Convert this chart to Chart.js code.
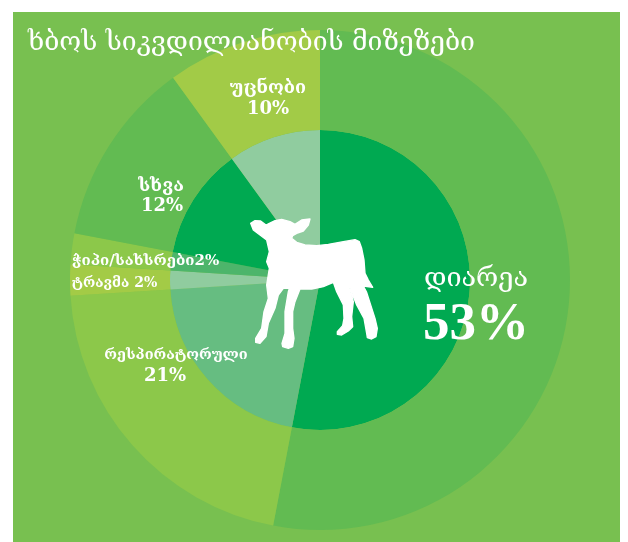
<!DOCTYPE html>
<html>
<head>
<meta charset="utf-8">
<style>
  html, body { margin: 0; padding: 0; background: #fff; overflow: hidden; }
  #panel { position: absolute; left: 13px; top: 12px; width: 607px; height: 530px; background: #78c050; }
  #grafico { position: absolute; left: 0; top: 0; }
</style>
</head>
<body>
<div id="panel"></div>
<canvas id="grafico" width="628" height="542"></canvas>
<script src="https://cdn.jsdelivr.net/npm/chart.js@4"></script>
<script>
  const titulo = "ხბოს სიკვდილიანობის მიზეზები";
  const categorias = ["დიარეა", "რესპირატორული", "ტრავმა", "ჭიპი/სახსრები", "სხვა", "უცნობი"];
  const valores = [53, 21, 2, 2, 12, 10];
  const coresFora = ["#62bb52", "#8cc84a", "#a3cb46", "#8cc84a", "#62bb52", "#a2cb47"];
  const coresDentro = ["#00a951", "#66bd81", "#90cc9f", "#4db56b", "#00a951", "#90cc9f"];

  // text placed by hand, same spots as the picture
  const rotulos = [
    { l: categorias[5], x: 268, y: 93, font: "bold 18px 'DejaVu Serif'" },
    { l: valores[5] + "%", x: 268, y: 114, font: "bold 18px 'DejaVu Serif'" },
    { l: categorias[4], x: 161, y: 191, font: "bold 18px 'DejaVu Serif'" },
    { l: valores[4] + "%", x: 162, y: 211, font: "bold 18px 'DejaVu Serif'" },
    { l: categorias[3] + valores[3] + "%", x: 72, y: 265, font: "bold 15px 'DejaVu Serif'", a: "left" },
    { l: categorias[2] + " " + valores[2] + "%", x: 72, y: 287, font: "bold 14px 'DejaVu Serif'", a: "left" },
    { l: categorias[1], x: 176, y: 359, font: "bold 14.5px 'DejaVu Serif'" },
    { l: valores[1] + "%", x: 165, y: 381, font: "bold 18px 'DejaVu Serif'" },
    { l: categorias[0], x: 476, y: 286, font: "27px 'DejaVu Serif'" },
    { l: valores[0] + "%", x: 476, y: 339, font: "bold 53px 'Liberation Serif'" }
  ];

  // calf silhouette outline, traced at 3x from (240,205)
  const bezerro = "M32 55 L45 47 L62 48 L78 60 L88 55 L105 47 L125 43 L150 50 L165 58 L185 45 L210 42 L205 60 L190 78 L170 85 L158 92 L155 100 L170 112 L195 120 L230 122 L265 118 L310 110 L345 104 L358 110 L365 130 L372 165 L375 205 L385 225 L398 247 L370 243 L380 262 L392 300 L405 340 L412 370 L408 395 L395 402 L382 398 L380 385 L372 340 L350 300 L335 262 L328 245 L340 290 L335 335 L338 365 L325 378 L305 390 L292 388 L292 380 L308 362 L312 340 L310 300 L290 260 L280 232 L250 245 L215 252 L180 252 L165 290 L158 320 L158 370 L162 400 L158 425 L145 430 L128 425 L126 415 L135 385 L135 320 L145 260 L148 250 L130 250 L115 270 L105 310 L85 355 L78 395 L60 415 L47 412 L47 400 L65 370 L72 320 L85 280 L80 240 L88 190 L80 170 L88 140 L80 105 L60 90 L40 75 Z";

  const extras = {
    id: "extras",
    afterDraw(chart) {
      const c = chart.ctx;
      c.save();
      c.save();
      c.translate(240, 205);
      c.scale(1 / 3, 1 / 3);
      const p = new Path2D(bezerro);
      c.fillStyle = "#fff";
      c.strokeStyle = "#fff";
      c.lineJoin = "round";
      c.lineWidth = 4;
      c.fill(p);
      c.stroke(p);
      c.restore();

      c.fillStyle = "#fff";
      c.textAlign = "left";
      c.font = "26.5px 'DejaVu Serif'";
      c.fillText(titulo, 28, 50);
      rotulos.forEach(r => {
        c.font = r.font;
        c.textAlign = r.a || "center";
        c.fillText(r.l, r.x, r.y);
      });
      c.restore();
    }
  };

  new Chart(document.getElementById("grafico").getContext("2d"), {
    type: "doughnut",
    data: {
      labels: categorias,
      datasets: [
        { data: valores, backgroundColor: coresFora, borderWidth: 0, weight: 100 },
        { data: valores, backgroundColor: coresDentro, borderWidth: 0, weight: 150 }
      ]
    },
    options: {
      responsive: false,
      animation: false,
      cutout: 0,
      layout: { padding: { left: 70, top: 30, right: 58, bottom: 12 } },
      plugins: { legend: { display: false }, tooltip: { enabled: false } }
    },
    plugins: [extras]
  });
</script>
</body>
</html>
